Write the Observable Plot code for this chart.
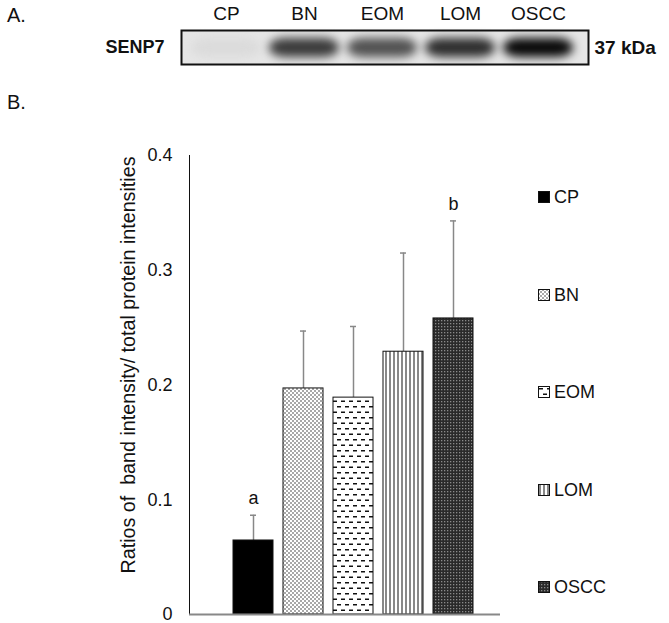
<!DOCTYPE html>
<html>
<head>
<meta charset="utf-8">
<script src="https://cdn.jsdelivr.net/npm/d3@7"></script>
<script src="https://cdn.jsdelivr.net/npm/@observablehq/plot@0.6"></script>
<style>
  html, body { margin: 0; padding: 0; background: #fff; }
  body { font-family: "Liberation Sans", Arial, sans-serif; color: #111; }
  #wrap { position: relative; width: 669px; height: 623px; overflow: hidden; }
  .abs { position: absolute; }
  .panel { font-size: 20px; line-height: 1; }
  .leg { position: absolute; font-size: 18px; line-height: 1; display: flex; align-items: center; }
  .leg svg { margin-right: 4px; }
</style>
</head>
<body>
<svg width="0" height="0" style="position:absolute">
  <defs>
    <pattern id="pat-bn" width="4" height="4" patternUnits="userSpaceOnUse">
      <rect width="4" height="4" fill="#fff"/>
      <rect x="0" y="0" width="2" height="2" fill="#a8a8a8"/>
      <rect x="2" y="2" width="2" height="2" fill="#a8a8a8"/>
    </pattern>
    <pattern id="pat-eom" width="8" height="11" patternUnits="userSpaceOnUse">
      <rect width="8" height="11" fill="#fff"/>
      <rect x="1" y="2" width="4" height="1.5" fill="#111"/>
      <rect x="5" y="7.5" width="4" height="1.5" fill="#111"/>
      <rect x="-3" y="7.5" width="4" height="1.5" fill="#111"/>
    </pattern>
    <pattern id="pat-lom" width="4" height="4" patternUnits="userSpaceOnUse">
      <rect width="4" height="4" fill="#fff"/>
      <rect x="1.5" y="0" width="1" height="4" fill="#111"/>
    </pattern>
    <pattern id="pat-oscc" width="3" height="3" patternUnits="userSpaceOnUse">
      <rect width="3" height="3" fill="#2a2a2a"/>
      <rect x="0" y="0" width="1.3" height="1.3" fill="#8a8a8a"/>
    </pattern>
  </defs>
</svg>
<div id="wrap">
  <div class="abs panel" style="left:7px; top:5px;">A.</div>
  <div class="abs panel" style="left:7px; top:92px;">B.</div>
  <div id="chart" class="abs" style="left:0; top:140px;"></div>
  <div id="blot" class="abs" style="left:0; top:0;"></div>
  <div id="legend"></div>
</div>
<script>
// ---- data ----
const groups = ["CP", "BN", "EOM", "LOM", "OSCC"];
const means = [0.0645, 0.197, 0.189, 0.229, 0.258];
const errors = [0.022, 0.050, 0.062, 0.086, 0.085];
const letters = ["a", "", "", "", "b"];
const yTicks = [0, 0.1, 0.2, 0.3, 0.4];
const laneIntensity = [0.04, 0.74, 0.64, 0.8, 0.96];
const proteinName = "SENP7";
const markerLabel = "37 kDa";
const yLabel = "Ratios of  band intensity/ total protein intensities";

const font = "'Liberation Sans', Arial, sans-serif";
const patternFills = ["#000", "url(#pat-bn)", "url(#pat-eom)", "url(#pat-lom)", "url(#pat-oscc)"];

const bars = groups.map((g, i) => ({group: g, mean: means[i], err: errors[i], letter: letters[i]}));
const lanes = groups.map((g, i) => ({lane: g, intensity: laneIntensity[i]}));

// ---- panel A: western blot ----
const blot = Plot.plot({
  width: 669, height: 70,
  marginTop: 30, marginBottom: 6, marginLeft: 181, marginRight: 81,
  style: {fontFamily: font, fontSize: "18px", background: "transparent", overflow: "visible"},
  x: {domain: groups, range: [187, 577], padding: 0},
  y: {domain: [proteinName], padding: 0},
  color: {type: "linear", domain: [0, 1], range: ["#e4e4e4", "#000"]},
  marks: [
    Plot.frame({fill: "#e6e6e6", stroke: "none"}),
    Plot.cell(lanes, {x: "lane", y: () => proteinName, fill: "intensity",
      insetLeft: 4, insetRight: 4, insetTop: 8, insetBottom: 7, rx: 16}),
    Plot.frame({stroke: "#111", strokeWidth: 2}),
    Plot.axisX({anchor: "top", tickSize: 0, tickPadding: 11, fontSize: 19, label: null}),
    Plot.axisY({anchor: "left", tickSize: 0, tickPadding: 17, fontSize: 18, fontWeight: "bold", label: null}),
    Plot.axisY({anchor: "right", tickSize: 0, tickPadding: 6, fontSize: 19, fontWeight: "bold", label: null,
      tickFormat: () => markerLabel})
  ]
});
const cellG = blot.querySelector('g[aria-label="cell"]');
if (cellG) cellG.style.filter = "blur(5px)";
document.getElementById("blot").appendChild(blot);

// ---- panel B: bar chart ----
const chart = Plot.plot({
  width: 669, height: 483,
  marginTop: 15, marginBottom: 9, marginLeft: 189, marginRight: 169,
  style: {fontFamily: font, fontSize: "18px", background: "transparent", overflow: "visible"},
  x: {domain: groups, range: [228, 478], paddingInner: 0.2, paddingOuter: 0.1, axis: null},
  y: {domain: [0, 0.4], ticks: yTicks, tickFormat: d => d === 0 ? "0" : d3.format(".1f")(d)},
  color: {domain: groups, range: patternFills},
  marks: [
    Plot.ruleX(bars, {x: "group", y1: "mean", y2: d => d.mean + d.err, stroke: "#888", strokeWidth: 1.5}),
    Plot.tickY(bars, {x: "group", y: d => d.mean + d.err, stroke: "#888", strokeWidth: 1.5, insetLeft: 17, insetRight: 17}),
    Plot.barY(bars, {x: "group", y: "mean", fill: "group", stroke: "#111", strokeWidth: 1}),
    Plot.text(bars.filter(d => d.letter), {x: "group", y: d => d.mean + d.err, text: "letter", dy: -17, fontSize: 18}),
    Plot.axisY({ticks: yTicks, tickSize: 0, tickPadding: 17, fontSize: 18, label: null,
      tickFormat: d => d === 0 ? "0" : d3.format(".1f")(d)}),
    Plot.frame({anchor: "left", stroke: "#111", strokeWidth: 1}),
    Plot.ruleY([0], {stroke: "#888", strokeWidth: 2}),
    Plot.text([yLabel], {frameAnchor: "left", text: d => d, textAnchor: "middle", lineAnchor: "middle",
      rotate: -90, dx: -61, dy: -20, fontSize: 19.7})
  ]
});
document.getElementById("chart").appendChild(chart);

// ---- legend ----
const legendTop = [197, 295, 392, 490, 587];
const legend = document.getElementById("legend");
groups.forEach((g, i) => {
  const item = document.createElement("div");
  item.className = "leg";
  item.style.left = "538px";
  item.style.top = (legendTop[i] - 10) + "px";
  item.style.height = "20px";
  item.innerHTML = `<svg width="12" height="12"><rect x="0.5" y="0.5" width="11" height="11" fill="${patternFills[i]}" stroke="#111" stroke-width="1"/></svg><span>${g}</span>`;
  legend.appendChild(item);
});
</script>
</body>
</html>
